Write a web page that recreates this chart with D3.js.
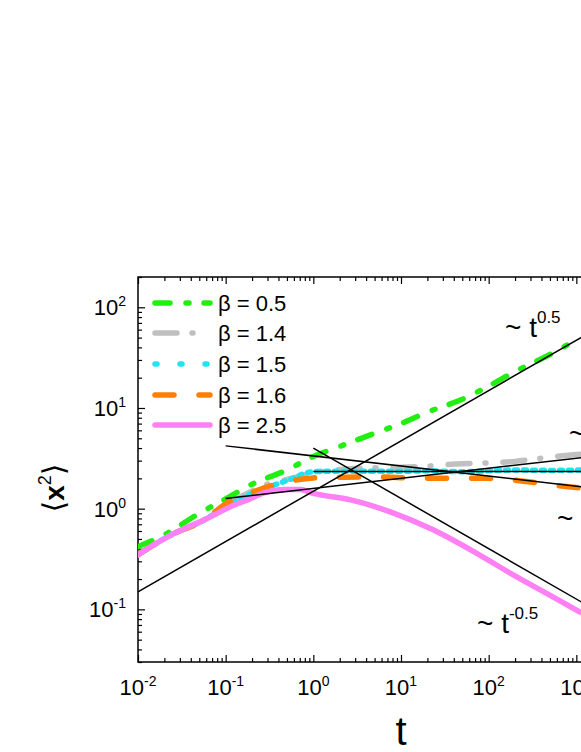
<!DOCTYPE html>
<html lang="en">
<head>
    <meta charset="utf-8">
    <title>MSD vs t</title>
    <script src="https://d3js.org/d3.v7.min.js"></script>
    <style>
        body {
            margin: 0;
            background: #fff;
            font-family: "Liberation Sans", Arial, sans-serif;
        }
        svg text {
            font-family: "Liberation Sans", Arial, sans-serif;
            fill: #000;
        }
        .axis .domain {
            display: none;
        }
        .axis line {
            stroke: #000;
            stroke-width: 1.2px;
        }
        .frame {
            fill: none;
            stroke: #000;
            stroke-width: 1.5px;
        }
        .fit {
            fill: none;
            stroke: #000;
            stroke-width: 1.5px;
        }
        .curve {
            fill: none;
            stroke-width: 5.5px;
            stroke-linecap: round;
            stroke-linejoin: round;
        }
    </style>
</head>
<body>
    <svg id="chart" width="581" height="752"></svg>
    <script>
        // series
        const betas = ['0.5', '1.4', '1.5', '1.6', '2.5'];
        const colors = ['#22ee11', '#c0c0c0', '#22e4f0', '#ff8000', '#ff80f5'];
        const dashes = ['15,16,3,15', '22,15,1,17', '2,23', '19,25', null];
        // the noisy data traces pack their pattern tighter than the legend swatches
        const traceDashes = ['15,16,3,15', '22,15,1,17', '3,6', '19,25', null];

        const tGreen = [0.01, 0.02, 0.05, 0.1, 0.2, 0.5, 1, 2, 5, 10, 20, 50, 100, 200, 500, 1100];
        const vGreen = [0.42, 0.55, 0.9, 1.25, 1.75, 2.42, 3.3, 4.15, 5.6, 7.0, 9.1, 12.2, 16.5, 23, 34, 50];

        const tGray = [0.01, 0.024, 0.058, 0.1, 0.2, 0.3, 0.5, 0.7, 1, 2, 5, 10, 20, 50, 100, 200, 500, 1000, 1200];
        const vGray = [0.35, 0.55, 0.78, 1.08, 1.5, 1.75, 1.95, 2.1, 2.28, 2.45, 2.55, 2.58, 2.65, 2.8, 2.85, 2.95, 3.25, 3.45, 3.5];

        const tCyan = [0.01, 0.024, 0.058, 0.1, 0.2, 0.5, 1, 2, 5, 10, 20, 50, 100, 200, 500, 1200];
        const vCyan = [0.35, 0.55, 0.78, 1.05, 1.42, 1.9, 2.33, 2.36, 2.35, 2.35, 2.38, 2.33, 2.38, 2.42, 2.4, 2.42];

        const tOrange = [0.01, 0.024, 0.058, 0.1, 0.2, 0.3, 0.5, 1, 2, 5, 10, 20, 50, 100, 200, 500, 1000, 1200];
        const vOrange = [0.35, 0.55, 0.78, 1.12, 1.45, 1.65, 1.85, 2.02, 2.05, 2.07, 2.03, 2.0, 2.0, 2.0, 1.92, 1.73, 1.62, 1.6];

        const tViolet = [0.01, 0.024, 0.058, 0.115, 0.18, 0.28, 0.47, 0.72, 0.94, 1.0, 2.6, 8.1, 23, 73, 209, 540, 1100];
        const vViolet = [0.35, 0.55, 0.78, 1.05, 1.23, 1.44, 1.55, 1.55, 1.44, 1.42, 1.23, 0.91, 0.62, 0.36, 0.21, 0.133, 0.094];

        // power-law guide lines: a * t^p between t0 and t1
        const fitA = [1.49, 4.0, 3.34, 1.59, 2.34];
        const fitP = [0.5, -0.5, -0.1, 0.1, 0];
        const fitT0 = [0.01, 1, 0.1, 0.1, 1];
        const fitT1 = [2000, 2000, 2000, 2000, 2000];

        const xTickExps = [-2, -1, 0, 1, 2, 3, 4];
        const yTickExps = [-1, 0, 1, 2];

        const series = [
            [tGreen, vGreen], [tGray, vGray], [tCyan, vCyan], [tOrange, vOrange], [tViolet, vViolet]
        ];

        const mLeft = 138, mTop = 277, mBottom = 662, mRight = 664;
        const x = d3.scaleLog().domain([0.01, 1e4]).range([mLeft, mRight]);
        const y = d3.scaleLog().domain([0.03, 200]).range([mBottom, mTop]);

        const svg = d3.select('#chart');

        svg.append('clipPath').attr('id', 'plot-clip')
            .append('rect')
            .attr('x', mLeft).attr('y', mTop - 1)
            .attr('width', mRight - mLeft).attr('height', mBottom - mTop + 1);

        const minors = [];
        for (let e = -2; e < 4; e++) for (let m = 2; m < 10; m++) minors.push(m * Math.pow(10, e));
        const yMinors = [];
        for (let e = -2; e < 3; e++) for (let m = 2; m < 10; m++) {
            const v = m * Math.pow(10, e);
            if (v >= 0.03 && v <= 200) yMinors.push(v);
        }
        const xMajors = xTickExps.map(e => Math.pow(10, e));
        const yMajors = yTickExps.map(e => Math.pow(10, e));

        // inward ticks on bottom, top and left
        svg.append('g').attr('class', 'axis').attr('transform', `translate(0,${mBottom})`)
            .call(d3.axisBottom(x).tickValues(xMajors).tickSize(-7).tickFormat(''));
        svg.append('g').attr('class', 'axis').attr('transform', `translate(0,${mBottom})`)
            .call(d3.axisBottom(x).tickValues(minors).tickSize(-4).tickFormat(''));
        svg.append('g').attr('class', 'axis').attr('transform', `translate(0,${mTop})`)
            .call(d3.axisTop(x).tickValues(xMajors).tickSize(-7).tickFormat(''));
        svg.append('g').attr('class', 'axis').attr('transform', `translate(0,${mTop})`)
            .call(d3.axisTop(x).tickValues(minors).tickSize(-4).tickFormat(''));
        svg.append('g').attr('class', 'axis').attr('transform', `translate(${mLeft},0)`)
            .call(d3.axisLeft(y).tickValues(yMajors).tickSize(-7).tickFormat(''));
        svg.append('g').attr('class', 'axis').attr('transform', `translate(${mLeft},0)`)
            .call(d3.axisLeft(y).tickValues(yMinors).tickSize(-4).tickFormat(''));

        svg.append('rect').attr('class', 'frame')
            .attr('x', mLeft).attr('y', mTop)
            .attr('width', mRight - mLeft).attr('height', mBottom - mTop);

        // tick labels with superscripts
        svg.selectAll('.xlab').data(xTickExps).enter().append('text')
            .attr('class', 'xlab')
            .attr('x', d => x(Math.pow(10, d)))
            .attr('y', 695)
            .attr('text-anchor', 'middle')
            .attr('font-size', 22)
            .each(function(d) {
                const t = d3.select(this);
                t.append('tspan').text('10');
                t.append('tspan').attr('dy', -9).attr('font-size', 14).text(d);
            });

        svg.selectAll('.ylab').data(yTickExps).enter().append('text')
            .attr('class', 'ylab')
            .attr('x', 126)
            .attr('y', d => y(Math.pow(10, d)) + 8)
            .attr('text-anchor', 'end')
            .attr('font-size', 22)
            .each(function(d) {
                const t = d3.select(this);
                t.append('tspan').text('10');
                t.append('tspan').attr('dy', -9).attr('font-size', 14).text(d);
            });

        // axis titles
        svg.append('text')
            .attr('x', 401).attr('y', 745)
            .attr('text-anchor', 'middle')
            .attr('font-size', 40)
            .text('t');

        const yt = svg.append('text')
            .attr('transform', 'translate(64,488) rotate(-90)')
            .attr('text-anchor', 'middle')
            .attr('font-size', 30);
        yt.append('tspan').attr('font-family', 'DejaVu Sans').text('\u27E8');
        yt.append('tspan').attr('font-weight', 'bold').attr('font-size', 28).text('x');
        yt.append('tspan').attr('dy', -13).attr('font-size', 18).text('2');
        yt.append('tspan').attr('dy', 13).attr('font-family', 'DejaVu Sans').text('\u27E9');

        // data curves
        const plot = svg.append('g').attr('clip-path', 'url(#plot-clip)');
        const line = d3.line()
            .x(d => x(d[0]))
            .y(d => y(d[1]))
            .curve(d3.curveMonotoneX);

        series.forEach(([ts, vs], i) => {
            plot.append('path')
                .attr('class', 'curve')
                .attr('stroke', colors[i])
                .attr('stroke-dasharray', traceDashes[i])
                .attr('d', line(ts.map((t, j) => [t, vs[j]])));
        });

        // guide lines
        const straight = d3.line().x(d => x(d[0])).y(d => y(d[1]));
        fitA.forEach((a, i) => {
            const pts = [fitT0[i], fitT1[i]].map(t => [t, a * Math.pow(t, fitP[i])]);
            plot.append('path').attr('class', 'fit').attr('d', straight(pts));
        });

        // annotations
        function powerLabel(px, py, exp) {
            const t = svg.append('text').attr('x', px).attr('y', py).attr('font-size', 28);
            t.append('tspan').text('~ t');
            t.append('tspan').attr('dy', -14).attr('font-size', 17).text(exp);
        }
        powerLabel(505, 337, '0.5');
        powerLabel(477, 633, '-0.5');
        powerLabel(569, 443, '0.1');
        powerLabel(557, 528, '-0.1');

        // legend
        const legendY = [303, 333, 364, 395, 425];
        betas.forEach((b, i) => {
            svg.append('line')
                .attr('class', 'curve')
                .attr('x1', 155).attr('x2', 210)
                .attr('y1', legendY[i]).attr('y2', legendY[i])
                .attr('stroke', colors[i])
                .attr('stroke-dasharray', dashes[i]);
            svg.append('text')
                .attr('x', 218).attr('y', legendY[i] + 8)
                .attr('font-size', 22)
                .text('\u03B2 = ' + b);
        });
    </script>
</body>
</html>
